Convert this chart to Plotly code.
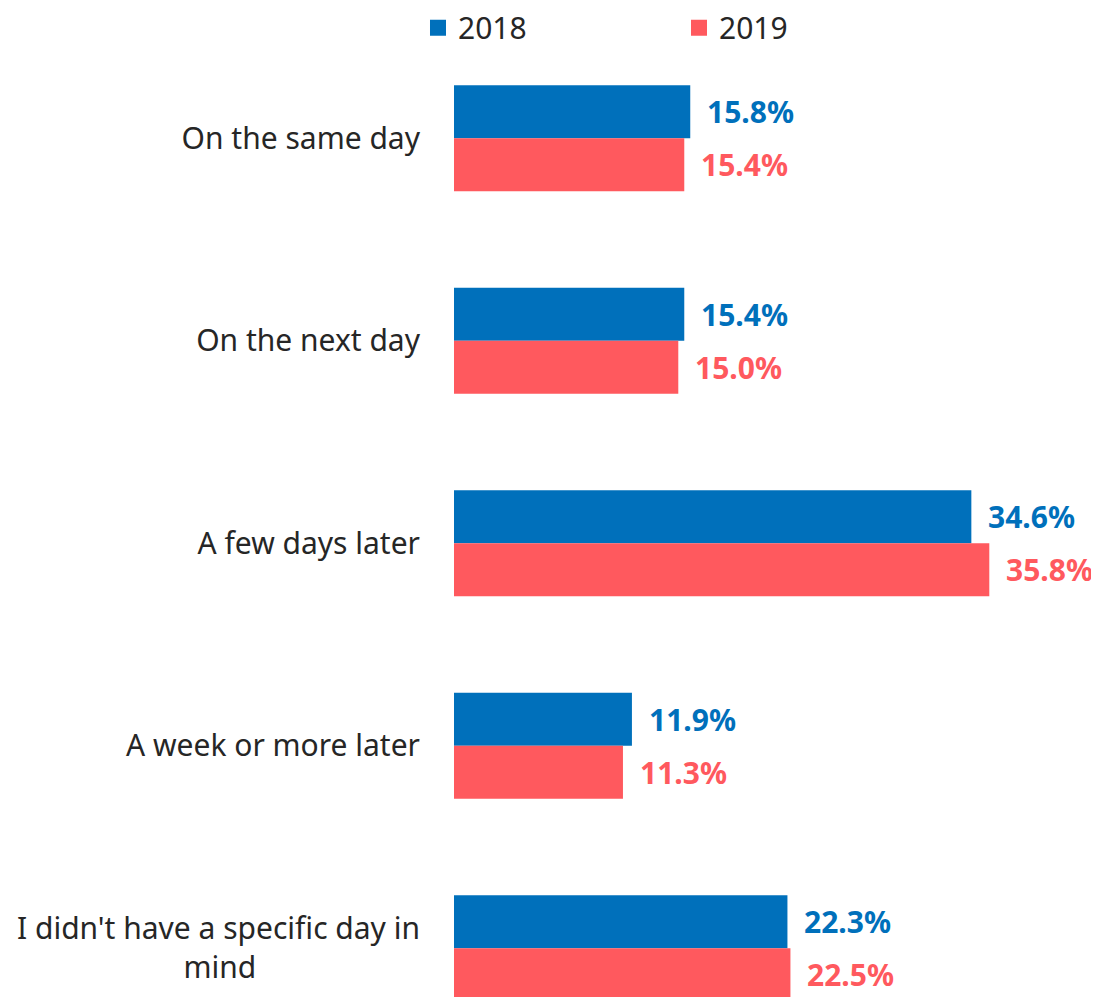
import plotly.graph_objects as go

categories = ["On the same day", "On the next day", "A few days later",
              "A week or more later", "I didn't have a specific day in<br>mind"]
tick_text = ["On the same day", "On the next day", "A few days later",
             "A week or more later",
             "I didn't have a specific day in<br>mind" + "\u00a0" * 21]
series_2018 = [15.8, 15.4, 34.6, 11.9, 22.3]
series_2019 = [15.4, 15.0, 35.8, 11.3, 22.5]
names = ["2018", "2019"]
colors = ["#0070BB", "#FF595E"]

FONT = "Noto Sans"
fig = go.Figure()
for name, vals, col in zip(names, [series_2018, series_2019], colors):
    fig.add_trace(go.Bar(y=categories, x=vals, orientation="h", name=name,
                         marker=dict(color=col, line=dict(width=0)),
                         showlegend=False))
    fig.add_trace(go.Scatter(x=[None], y=[None], mode="markers", name=name,
                             marker=dict(symbol="square", size=16, color=col)))

annotations = []
for vals, col, ys in [(series_2018, colors[0], 26.5), (series_2019, colors[1], -26.5)]:
    for c, v in zip(categories, vals):
        annotations.append(dict(x=v, y=c, xref="x", yref="y", text=f"<b>{v:.1f}%</b>",
                                showarrow=False, xanchor="left", yanchor="middle",
                                xshift=15, yshift=ys,
                                font=dict(family=FONT, size=30, color=col)))

# page body adds an 8px offset; figure is sized to fit the window
fig.update_layout(
    width=1091, height=989,
    margin=dict(l=446, r=17, t=29, b=0, autoexpand=False),
    plot_bgcolor="white", paper_bgcolor="white",
    barmode="group", bargap=0.4765, bargroupgap=0,
    font=dict(family=FONT, size=30, color="#262626"),
    legend=dict(orientation="h", xref="container", yref="container",
                x=0.3758, y=0.98, xanchor="left", yanchor="middle",
                entrywidth=216, entrywidthmode="pixels",
                font=dict(family=FONT, size=30, color="#262626")),
    annotations=annotations,
    xaxis=dict(range=[0, 42], visible=False, showgrid=False, zeroline=False),
    yaxis=dict(categoryorder="array", categoryarray=categories,
               tickmode="array", tickvals=categories, ticktext=tick_text,
               range=[4.241, -0.5], showgrid=False, zeroline=False, showline=False,
               ticks="", ticklabelstandoff=33,
               tickfont=dict(family=FONT, size=30, color="#262626")),
)
fig.write_html("out.html")
